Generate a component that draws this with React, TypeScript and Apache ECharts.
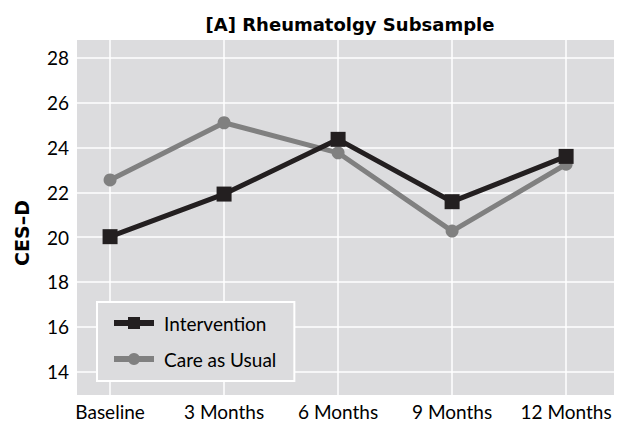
import React, { useEffect, useRef } from "react";
import * as echarts from "echarts";

const categories = ["Baseline", "3 Months", "6 Months", "9 Months", "12 Months"];
const intervention = [20.02, 21.92, 24.36, 21.58, 23.6];
const careAsUsual = [22.55, 25.1, 23.76, 20.27, 23.25];
const yTicks = [14, 16, 18, 20, 22, 24, 26, 28];
const xTicks = [0, 1, 2, 3, 4];

const FONT = "Lato, 'Open Sans', sans-serif";
const BOLD = "'DejaVu Sans', sans-serif";

export default function App() {
  const ref = useRef<HTMLDivElement>(null);
  useEffect(() => {
    document.body.style.margin = "0";
    const chart = echarts.init(ref.current!, undefined, { renderer: "svg" });
    const toPairs = (arr: number[]) => arr.map((v, i) => [i, v]);
    chart.setOption({
      animation: false,
      backgroundColor: "#ffffff",
      textStyle: { fontFamily: FONT },
      title: {
        text: "[A] Rheumatolgy Subsample",
        left: 345,
        textAlign: "center",
        top: 10,
        textStyle: { fontFamily: BOLD, fontSize: 18, fontWeight: "bold", color: "#000" },
      },
      graphic: [
        {
          type: "text",
          x: 22,
          y: 233,
          rotation: Math.PI / 2,
          style: {
            text: "CES–D",
            fontFamily: BOLD,
            fontSize: 19,
            fontWeight: "bold",
            fill: "#000",
            align: "center",
            verticalAlign: "middle",
          },
        },
      ],
      grid: {
        left: 77,
        right: 8,
        top: 40,
        bottom: 30,
        show: true,
        backgroundColor: "#dcdcde",
        borderWidth: 0,
      },
      xAxis: {
        type: "value",
        min: -0.29,
        max: 4.42,
        axisLine: { show: false },
        axisTick: { show: false, customValues: xTicks },
        axisLabel: {
          customValues: xTicks,
          formatter: (v: number) => categories[Math.round(v)],
          fontFamily: FONT,
          fontSize: 19,
          color: "#000",
          margin: 7,
        },
        splitLine: { show: true, lineStyle: { color: "#ffffff", width: 1.5 } },
      },
      yAxis: {
        type: "value",
        min: 12.96,
        max: 28.79,
        axisLine: { show: false },
        axisTick: { show: false, customValues: yTicks },
        axisLabel: {
          customValues: yTicks,
          fontFamily: FONT,
          fontSize: 19,
          color: "#000",
          margin: 8,
        },
        splitLine: { show: true, lineStyle: { color: "#ffffff", width: 1.5 } },
      },
      legend: {
        orient: "vertical",
        left: 97,
        top: 302,
        padding: [11, 18, 12, 14],
        itemGap: 16,
        itemWidth: 40,
        itemHeight: 15,
        borderColor: "#ffffff",
        borderWidth: 2,
        backgroundColor: "#dcdcde",
        lineStyle: { width: 6 },
        textStyle: { fontFamily: FONT, fontSize: 19, lineHeight: 20, color: "#000", padding: [0, 0, 0, 5] },
        data: ["Intervention", "Care as Usual"],
      },
      series: [
        {
          name: "Care as Usual",
          type: "line",
          data: toPairs(careAsUsual),
          symbol: "circle",
          symbolSize: 13,
          lineStyle: { color: "#808080", width: 5 },
          itemStyle: { color: "#808080" },
          z: 2,
        },
        {
          name: "Intervention",
          type: "line",
          data: toPairs(intervention),
          symbol: "rect",
          symbolSize: 15,
          lineStyle: { color: "#231f20", width: 5 },
          itemStyle: { color: "#231f20" },
          z: 3,
        },
      ],
    });
    return () => chart.dispose();
  }, []);
  return <div ref={ref} style={{ width: 622, height: 425 }} />;
}
